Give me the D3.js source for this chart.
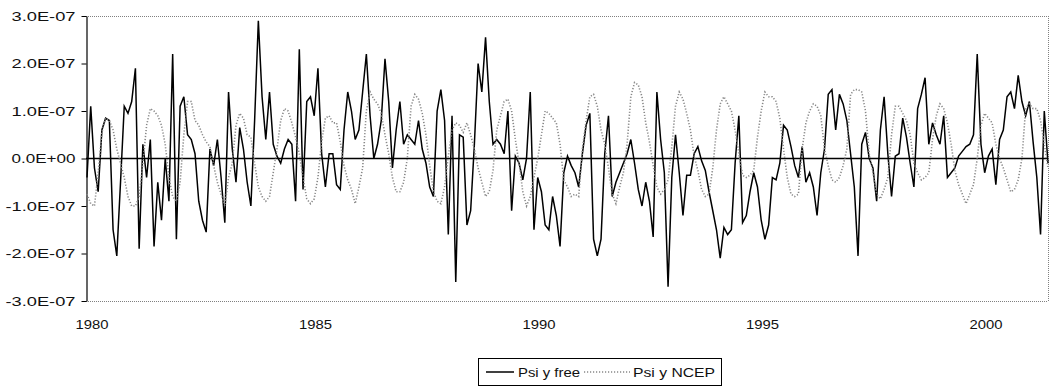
<!DOCTYPE html>
<html>
<head>
<meta charset="utf-8">
<script src="https://cdn.jsdelivr.net/npm/d3@7"></script>
<style>
  html, body { margin: 0; padding: 0; background: #ffffff; }
  svg { display: block; font-family: "Liberation Sans", Arial, sans-serif; }
</style>
</head>
<body>
<svg id="chart" width="1055" height="390"></svg>
<script>
// Monthly series starting January 1980, values in units of 1e-7
const startYear = 1980;
const UNIT = 1e-7;
const yearTicks = [1980, 1985, 1990, 1995, 2000];
const yTicks = [-3, -2, -1, 0, 1, 2, 3];
const seriesNames = ["Psi y free", "Psi y NCEP"];

const psiFree = [
  -0.4, 1.1, -0.2, -0.7, 0.6, 0.85, 0.8, -1.5, -2.05, -0.5,
  1.1, 0.95, 1.2, 1.9, -1.9, 0.3, -0.4, 0.4, -1.85, -0.5,
  -1.3, 0.0, -0.9, 2.2, -1.7, 1.1, 1.3, 0.5, 0.4, 0.1,
  -0.9, -1.3, -1.55, 0.2, -0.15, 0.4, -0.4, -1.35, 1.4, 0.2,
  -0.5, 0.65, 0.2, -0.5, -1.0, 0.8, 2.9, 1.3, 0.4, 1.4,
  0.3, 0.05, -0.1, 0.2, 0.4, 0.3, -0.9, 2.3, -0.65, 1.2,
  1.3, 0.9, 1.9, 0.1, -0.6, 0.1, 0.1, -0.55, -0.65, 0.6,
  1.4, 1.0, 0.4, 0.6, 1.4, 2.2, 0.9, 0.0, 0.3, 0.8,
  2.1, 1.2, -0.2, 0.6, 1.2, 0.3, 0.5, 0.4, 0.3, 0.8,
  0.2, -0.1, -0.6, -0.8, 1.0, 1.45, 0.8, -1.6, 0.9, -2.6,
  0.5, 0.45, -1.4, -1.1, 0.3, 2.0, 1.4, 2.55, 1.2, 0.3,
  0.4, 0.3, 0.1, 1.0, -1.1, 0.05, -0.1, -0.45, 0.0, 1.4,
  -1.5, -0.4, -0.7, -1.4, -1.5, -0.8, -1.2, -1.85, -0.3, 0.05,
  -0.15, -0.3, -0.6, 0.1, 0.7, 0.95, -1.7, -2.05, -1.7, 0.1,
  0.9, -0.8, -0.5, -0.3, -0.1, 0.1, 0.4, -0.1, -0.65, -1.0,
  -0.5, -0.9, -1.65, 1.4, 0.4, -0.3, -2.7, -0.4, 0.5, -0.3,
  -1.2, -0.35, -0.35, 0.1, 0.25, -0.05, -0.25, -0.7, -1.1, -1.5,
  -2.1, -1.45, -1.6, -1.5, -0.1, 0.9, -1.35, -1.2, -0.7, -0.3,
  -0.6, -1.3, -1.7, -1.4, -0.4, -0.45, -0.1, 0.7, 0.6, 0.25,
  -0.15, -0.4, 0.25, -0.5, -0.3, -0.6, -1.2, -0.3, 0.2, 1.35,
  1.45, 0.6, 1.35, 1.15, 0.8, 0.1, -0.6, -2.05, 0.3, 0.55,
  0.0, -0.2, -0.9, 0.6, 1.3, 0.1, -0.8, 0.05, 0.1, 0.85,
  0.45, -0.1, -0.6, 1.05, 1.35, 1.7, 0.3, 0.75, 0.5, 0.3,
  0.9, -0.4, -0.3, -0.2, 0.05, 0.15, 0.25, 0.3, 0.5, 2.2,
  0.3, -0.3, 0.05, 0.2, -0.55, 0.4, 0.6, 1.3, 1.4, 1.05,
  1.75, 1.2, 0.9, 1.2, 0.35, -0.4, -1.6, 1.0, -0.1
];

const psiNcep = [
  -0.75, -0.95, -1.0, -0.3, 0.55, 0.85, 0.8, 0.6, 0.2, -0.1,
  -0.4, -0.8, -1.0, -1.0, -0.8, -0.1, 0.7, 1.05, 1.0, 0.9,
  0.7, 0.3, -0.4, -0.8, -0.9, -0.5, 0.5, 1.2, 1.2, 0.8,
  0.7, 0.5, 0.35, 0.25, -0.15, -0.5, -0.75, -1.0, -0.4, -0.1,
  0.7, 0.95, 0.85, 0.5, 0.45, -0.1, -0.6, -0.8, -0.9, -0.8,
  -0.3, 0.2, 0.8, 1.05, 1.0, 0.75, 0.45, 0.1, -0.4, -0.85,
  -0.95, -0.85, -0.4, 0.35, 0.85, 0.9, 0.75, 0.75, 0.35, -0.15,
  -0.45, -0.65, -0.95, -0.6, -0.2, 1.0, 1.4, 1.25, 1.15, 0.95,
  0.5, 0.1, -0.4, -0.7, -0.7, -0.5, 0.0, 1.1, 1.35, 1.25,
  0.95, 0.5, -0.15, -0.7, -0.9, -0.95, -0.6, 0.05, 0.6, 0.75,
  0.7, 0.55, 0.75, 0.5, 0.2, -0.2, -0.5, -0.8, -0.7, -0.25,
  0.6, 0.9, 1.2, 1.25, 1.0, 0.4, -0.1, -0.7, -1.0, -0.8,
  -0.4, 0.0, 0.5, 1.0, 0.95, 0.85, 0.75, 0.3, -0.45, -0.6,
  -0.8, -0.75, -0.8, 0.2, 0.8, 1.3, 1.35, 1.1, 0.6, 0.3,
  -0.2, -0.75, -0.95, -0.6, -0.3, 0.3, 1.3, 1.6, 1.55, 1.3,
  0.75, 0.35, -0.15, -0.6, -0.75, -0.65, -0.45, 0.25, 1.1, 1.4,
  1.25, 0.95, 0.6, 0.05, -0.25, -0.65, -0.8, -0.75, -0.2, 0.6,
  1.15, 1.3, 1.15, 1.0, 0.6, 0.1, -0.35, -0.4, -0.35, -0.25,
  0.45, 1.0, 1.4, 1.3, 1.3, 1.2, 0.85, 0.2, -0.4, -0.75,
  -0.8, -0.75, 0.2, 0.75, 1.0, 1.15, 1.1, 0.9, 0.2, -0.15,
  -0.45, -0.5, -0.4, -0.15, 0.2, 1.35, 1.45, 1.45, 1.4, 1.0,
  0.1, -0.3, -0.75, -0.85, -0.65, -0.4, 0.5, 1.1, 1.1, 0.95,
  0.8, 0.5, -0.1, -0.3, -0.45, -0.4, -0.3, 0.4, 0.9, 1.15,
  1.05, 0.75, 0.3, -0.25, -0.55, -0.75, -0.95, -0.75, -0.55, 0.0,
  0.7, 0.95, 0.85, 0.75, 0.3, 0.0, -0.2, -0.45, -0.7, -0.65,
  -0.45, 0.0, 1.05, 1.15, 1.05, 1.05, 0.8, 0.3, -0.2
];

const svg = d3.select("#chart");
const plot = { left: 86, right: 1048, top: 16, bottom: 301 };

const nMonths = Math.max(psiFree.length, psiNcep.length) - 1;
const x = d3.scaleLinear()
  .domain([startYear, startYear + nMonths / 12])
  .range([plot.left + 1, plot.right]);
const y = d3.scaleLinear()
  .domain([-3 * UNIT, 3 * UNIT])
  .range([plot.bottom, plot.top]);

// Excel-style scientific tick labels, e.g. 2.0E-07
function sci(v) {
  if (v === 0) return "0.0E+00";
  const e = Math.floor(Math.log10(Math.abs(v)) + 1e-9);
  const m = v / Math.pow(10, e);
  return m.toFixed(1) + "E" + (e < 0 ? "-" : "+") + String(Math.abs(e)).padStart(2, "0");
}

// dotted plot-area border (top, right, bottom)
const border = svg.append("g")
  .attr("fill", "none")
  .attr("stroke", "#808080")
  .attr("stroke-width", 1)
  .attr("stroke-dasharray", "1,1");
border.append("line").attr("x1", plot.left).attr("x2", plot.right).attr("y1", plot.top + 0.5).attr("y2", plot.top + 0.5);
border.append("line").attr("x1", plot.right + 0.5).attr("x2", plot.right + 0.5).attr("y1", plot.top).attr("y2", plot.bottom);
border.append("line").attr("x1", plot.left).attr("x2", plot.right).attr("y1", plot.bottom + 0.5).attr("y2", plot.bottom + 0.5);

// zero line (category axis crossing)
svg.append("line")
  .attr("x1", plot.left).attr("x2", plot.right)
  .attr("y1", y(0)).attr("y2", y(0))
  .attr("stroke", "#000").attr("stroke-width", 1.5);

// value axis
const yAxis = svg.append("g")
  .attr("transform", `translate(${plot.left + 0.5},0)`)
  .call(d3.axisLeft(y)
    .tickValues(yTicks.map(v => v * UNIT))
    .tickFormat(sci)
    .tickSize(5)
    .tickPadding(6)
    .tickSizeOuter(0));
yAxis.select(".domain").attr("stroke", "#000").attr("stroke-width", 1.2);
yAxis.selectAll(".tick line").attr("stroke", "#000");
yAxis.selectAll(".tick text")
  .attr("fill", "#111")
  .style("font-size", "13px")
  .attr("textLength", function (d) { return d < 0 ? 70 : 64; })
  .attr("lengthAdjust", "spacingAndGlyphs");

// year labels along the bottom
svg.append("g").selectAll("text")
  .data(yearTicks)
  .join("text")
  .attr("x", d => x(d) + 5)
  .attr("y", 329)
  .attr("text-anchor", "middle")
  .attr("fill", "#111")
  .style("font-size", "13px")
  .attr("textLength", 33)
  .attr("lengthAdjust", "spacingAndGlyphs")
  .text(d => d);

// series lines
const lineGen = d3.line()
  .x((d, i) => x(startYear + i / 12))
  .y(d => y(d * UNIT));

svg.append("path")
  .datum(psiFree)
  .attr("fill", "none")
  .attr("stroke", "#000")
  .attr("stroke-width", 1.5)
  .attr("stroke-linejoin", "miter")
  .attr("d", lineGen);

svg.append("path")
  .datum(psiNcep)
  .attr("fill", "none")
  .attr("stroke", "#888888")
  .attr("stroke-width", 1.6)
  .attr("stroke-dasharray", "1.2,1.8")
  .attr("d", lineGen);

// legend
const legend = svg.append("g");
legend.append("rect")
  .attr("x", 478.5).attr("y", 358.5)
  .attr("width", 243).attr("height", 27)
  .attr("fill", "#fff").attr("stroke", "#000").attr("stroke-width", 1);
legend.append("line")
  .attr("x1", 486).attr("x2", 514).attr("y1", 372).attr("y2", 372)
  .attr("stroke", "#000").attr("stroke-width", 1.5);
legend.append("text")
  .attr("x", 518).attr("y", 377)
  .attr("fill", "#111").style("font-size", "13px")
  .attr("textLength", 62).attr("lengthAdjust", "spacingAndGlyphs")
  .text(seriesNames[0]);
legend.append("line")
  .attr("x1", 584).attr("x2", 630).attr("y1", 372).attr("y2", 372)
  .attr("stroke", "#888888").attr("stroke-width", 1.6).attr("stroke-dasharray", "1.2,1.8");
legend.append("text")
  .attr("x", 633).attr("y", 377)
  .attr("fill", "#111").style("font-size", "13px")
  .attr("textLength", 82).attr("lengthAdjust", "spacingAndGlyphs")
  .text(seriesNames[1]);
</script>
</body>
</html>
